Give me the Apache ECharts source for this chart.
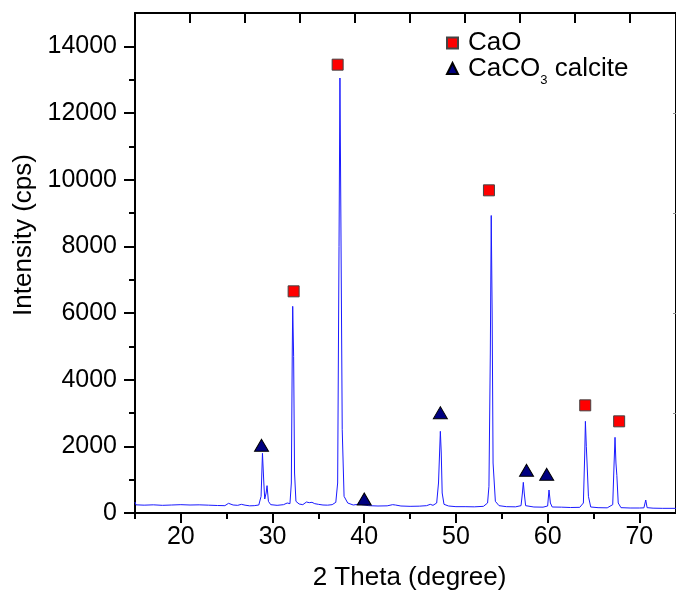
<!DOCTYPE html>
<html>
<head>
<meta charset="utf-8">
<script src="https://cdn.jsdelivr.net/npm/echarts@6/dist/echarts.min.js"></script>
<style>
  html, body { margin: 0; padding: 0; background: #fff; }
  #chart { width: 676px; height: 596px; }
</style>
</head>
<body>
<div id="chart"></div>
<script>
// XRD trace, [2theta, intensity]
var pattern = [
  [15.0, 330], [15.1, 245], [16, 235], [17, 245], [18, 230], [19, 240], [20, 250], [21, 240],
  [22, 245], [23, 235], [24, 225], [24.8, 220], [25.2, 290], [25.4, 300], [25.7, 240], [26.2, 230],
  [26.6, 260], [27, 235], [27.5, 215], [28.0, 220], [28.5, 240], [28.75, 500], [28.9, 1790], [29.05, 900],
  [29.15, 420], [29.3, 600], [29.4, 820], [29.55, 350], [29.8, 250], [30.5, 230], [31.2, 250], [31.6, 300],
  [31.9, 280], [32.05, 900], [32.15, 4800], [32.2, 6200], [32.3, 4700], [32.4, 1200], [32.55, 350], [32.9, 270],
  [33.3, 250], [33.5, 300], [33.7, 330], [34.0, 310], [34.3, 320], [34.6, 280], [35, 260], [35.5, 240],
  [36, 235], [36.5, 250], [36.9, 320], [37.1, 900], [37.25, 8000], [37.35, 13050], [37.45, 9000], [37.6, 2500],
  [37.8, 500], [38.2, 300], [38.8, 240], [39.3, 260], [39.5, 330], [39.7, 250], [40.5, 220], [41.5, 210],
  [42.5, 215], [43.1, 250], [43.4, 240], [44, 210], [45, 200], [46, 205], [46.8, 220], [47.2, 260],
  [47.5, 230], [47.9, 300], [48.1, 900], [48.3, 2450], [48.4, 1800], [48.5, 600], [48.7, 260], [49.2, 210],
  [50, 190], [51, 190], [52, 185], [53, 200], [53.45, 300], [53.6, 800], [53.75, 4800], [53.85, 8925],
  [53.95, 6000], [54.05, 1500], [54.3, 350], [54.7, 220], [55.5, 190], [56.5, 185], [57.1, 220], [57.25, 600],
  [57.35, 920], [57.45, 600], [57.6, 220], [58.5, 180], [59.5, 175], [60.0, 210], [60.15, 690], [60.3, 300],
  [60.5, 180], [61.5, 175], [62.5, 165], [63.5, 170], [63.9, 300], [64.05, 1800], [64.12, 2750], [64.22, 2000],
  [64.3, 1500], [64.45, 500], [64.7, 180], [65.5, 160], [66.5, 155], [67.1, 250], [67.25, 1500], [67.35, 2270],
  [67.45, 1500], [67.55, 1130], [67.7, 300], [68, 160], [69, 150], [70, 150], [70.5, 155], [70.7, 390],
  [70.85, 160], [71.5, 145], [72.5, 140], [74, 140]
];

// phase markers
var caoMarks = [[32.3, 6650], [37.1, 13450], [53.6, 9680], [64.1, 3230], [67.8, 2750]];
var calciteMarks = [[28.8, 2030], [40.0, 420], [48.3, 3010], [57.7, 1280], [59.9, 1160]];

// ticks
var xMajor = [20, 30, 40, 50, 60, 70];
var xMinor = [15, 25, 35, 45, 55, 65];
var yMajor = [0, 2000, 4000, 6000, 8000, 10000, 12000, 14000];
var yMinor = [1000, 3000, 5000, 7000, 9000, 11000, 13000];
var topTicks = [6, 12, 18, 24, 30, 36, 42, 48, 54];
var rightTicks = [3000, 6000, 9000, 12000];

var FONT = '"Liberation Sans", Arial, sans-serif';
var black = '#000';

var chart = echarts.init(document.getElementById('chart'), null, {renderer: 'canvas'});

var option = {
  animation: false,
  backgroundColor: '#fff',
  grid: {left: 135, right: -2, top: 13, bottom: 81},
  legend: {
    orient: 'vertical',
    left: 446,
    top: 30,
    padding: 0,
    itemWidth: 11,
    itemHeight: 11,
    itemGap: -6,
    data: ['CaO', 'CaCO3 calcite'],
    formatter: function (name) {
      if (name === 'CaO') return '{a|CaO}';
      return '{a|CaCO}{s|3}{a| calcite}';
    },
    textStyle: {
      color: black, fontFamily: FONT, fontSize: 26, padding: [0, 0, 0, 5],
      rich: {
        a: {fontSize: 26, lineHeight: 24, fontFamily: FONT, color: black},
        s: {fontSize: 13, lineHeight: 24, fontFamily: FONT, color: black, padding: [24, 0, 0, 0]}
      }
    }
  },
  xAxis: [{
    type: 'value', position: 'bottom', min: 15, max: 74,
    name: '2 Theta (degree)', nameLocation: 'middle', nameGap: 52,
    nameTextStyle: {fontFamily: FONT, fontSize: 26, color: black, padding: [0, 0, 0, 8]},
    axisLine: {show: true, onZero: false, lineStyle: {color: black, width: 2}},
    axisTick: {show: true, inside: false, length: 10, customValues: xMajor, lineStyle: {color: black, width: 2}},
    axisLabel: {customValues: xMajor, fontFamily: FONT, fontSize: 25, color: black, margin: 12},
    splitLine: {show: false}
  }, {
    type: 'value', position: 'bottom', min: 15, max: 74,
    axisLine: {show: false, onZero: false},
    axisTick: {show: true, inside: false, length: 6, customValues: xMinor, lineStyle: {color: black, width: 2}},
    axisLabel: {show: false},
    splitLine: {show: false}
  }, {
    type: 'value', position: 'top', min: 0, max: 59,
    axisLine: {show: true, onZero: false, lineStyle: {color: black, width: 2}},
    axisTick: {show: true, inside: true, length: 10, customValues: topTicks, lineStyle: {color: black, width: 2}},
    axisLabel: {show: false},
    splitLine: {show: false}
  }],
  yAxis: [{
    type: 'value', position: 'left', min: 0, max: 15000,
    name: 'Intensity (cps)', nameLocation: 'middle', nameRotate: 90, nameGap: 98,
    nameTextStyle: {fontFamily: FONT, fontSize: 26, color: black, padding: [0, 0, 0, 56]},
    axisLine: {show: true, onZero: false, lineStyle: {color: black, width: 2}},
    axisTick: {show: true, inside: false, length: 11, customValues: yMajor, lineStyle: {color: black, width: 2}},
    axisLabel: {
      customValues: yMajor, fontFamily: FONT, fontSize: 25, color: black, margin: 18,
      formatter: function (v) { return String(v); }
    },
    splitLine: {show: false}
  }, {
    type: 'value', position: 'left', min: 0, max: 15000,
    axisLine: {show: false, onZero: false},
    axisTick: {show: true, inside: false, length: 6, customValues: yMinor, lineStyle: {color: black, width: 2}},
    axisLabel: {show: false},
    splitLine: {show: false}
  }, {
    type: 'value', position: 'right', min: 0, max: 15000,
    axisLine: {show: true, onZero: false, lineStyle: {color: black, width: 2}},
    axisTick: {show: true, inside: true, length: 3, customValues: rightTicks, lineStyle: {color: '#888', width: 1}},
    axisLabel: {show: false},
    splitLine: {show: false}
  }],
  series: [{
    name: 'pattern',
    type: 'line',
    xAxisIndex: 0, yAxisIndex: 0,
    data: pattern,
    showSymbol: false,
    symbol: 'none',
    lineStyle: {color: '#1a1aff', width: 1},
    z: 2
  }, {
    name: 'CaO',
    type: 'scatter',
    xAxisIndex: 0, yAxisIndex: 0,
    data: caoMarks,
    symbol: 'rect',
    symbolSize: 11,
    itemStyle: {color: '#ff0000', borderColor: '#444', borderWidth: 1, opacity: 1},
    z: 5
  }, {
    name: 'CaCO3 calcite',
    type: 'scatter',
    xAxisIndex: 0, yAxisIndex: 0,
    data: calciteMarks,
    symbol: 'triangle',
    symbolSize: [14, 12],
    itemStyle: {color: '#000080', borderColor: '#000', borderWidth: 1, opacity: 1},
    z: 5
  }]
};

chart.setOption(option);
</script>
</body>
</html>
